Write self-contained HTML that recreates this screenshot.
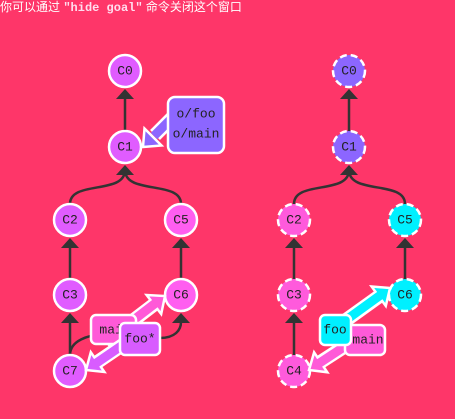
<!DOCTYPE html>
<html><head><meta charset="utf-8"><style>
body{margin:0;width:455px;height:419px;background:#fe3669;overflow:hidden;font-family:"Liberation Sans","Noto Sans CJK SC",sans-serif}
.t{position:absolute;left:0;top:0;color:#fff;font-size:12px;line-height:14px;white-space:nowrap}
.t b{font-family:"Liberation Mono",monospace;color:#fde}
svg{position:absolute;left:0;top:0}
text{font-family:"Liberation Mono","DejaVu Sans Mono",monospace;font-size:13px;text-anchor:middle;dominant-baseline:central;fill:#222}
</style></head><body>
<div class="t">你可以通过 <b>"hide goal"</b> 命令关闭这个窗口</div>
<svg width="455" height="419">
<defs>
<g id="ah"><polygon points="0,0 -9,10 9,10" fill="#333"/></g>
</defs>
<g stroke="#333" stroke-width="2.5" fill="none">
<path d="M125,131 V95"/>
<path d="M70,204 C70,180 125,195 125,170"/>
<path d="M181,204 C181,180 125,195 125,170"/>
<path d="M70,279 V245"/>
<path d="M181,279 V245"/>
<path d="M70,355 V320"/>
<path d="M70,355 C70,340 90,335 100,335"/>
<path d="M160,338 C175,338 181,330 181,322"/>
<path d="M349,131 V95"/>
<path d="M294,204 C294,180 349,195 349,170"/>
<path d="M405,204 C405,180 349,195 349,170"/>
<path d="M294,279 V245"/>
<path d="M405,279 V245"/>
<path d="M294,355 V320"/>
</g>
<use href="#ah" x="125" y="89"/><use href="#ah" x="125" y="165"/><use href="#ah" x="70" y="238"/><use href="#ah" x="181" y="238"/><use href="#ah" x="70" y="313"/><use href="#ah" x="181" y="313"/>
<use href="#ah" x="349" y="89"/><use href="#ah" x="349" y="165"/><use href="#ah" x="294" y="238"/><use href="#ah" x="405" y="238"/><use href="#ah" x="294" y="313"/>
<g stroke="#fff" stroke-width="2.5">
<circle cx="125" cy="71" r="16" fill="#e05cff"/>
<circle cx="125" cy="147" r="16" fill="#e05cff"/>
<circle cx="70" cy="220" r="16" fill="#e05cff"/>
<circle cx="181" cy="220" r="16" fill="#ff5ef0"/>
<circle cx="70" cy="295" r="16" fill="#e05cff"/>
<circle cx="181" cy="295" r="16" fill="#ff5ef0"/>
<circle cx="70" cy="371" r="16" fill="#e05cff"/>
</g>
<g stroke="#fff" stroke-width="2.5" stroke-dasharray="7,4">
<circle cx="349" cy="71" r="16" fill="#8c66ff"/>
<circle cx="349" cy="147" r="16" fill="#8c66ff"/>
<circle cx="294" cy="220" r="16" fill="#ff5adc"/>
<circle cx="405" cy="220" r="16" fill="#00f0ff"/>
<circle cx="294" cy="295" r="16" fill="#ff5adc"/>
<circle cx="405" cy="295" r="16" fill="#00f0ff"/>
<circle cx="294" cy="371" r="16" fill="#ff5adc"/>
</g>
<g>
<text x="125" y="71">C0</text><text x="125" y="147">C1</text><text x="70" y="220">C2</text><text x="181" y="220">C5</text><text x="70" y="295">C3</text><text x="181" y="295">C6</text><text x="70" y="371">C7</text>
<text x="349" y="71">C0</text><text x="349" y="147">C1</text><text x="294" y="220">C2</text><text x="405" y="220">C5</text><text x="294" y="295">C3</text><text x="405" y="295">C6</text><text x="294" y="371">C4</text>
</g>
<!-- o/foo -> C1 -->
<line x1="172" y1="118" x2="155" y2="135" stroke="#fff" stroke-width="14"/>
<polygon points="143,147 161.5,145.5 144.5,128.5" fill="#8c66ff" stroke="#fff" stroke-width="2.5"/>
<line x1="172" y1="118" x2="154" y2="136" stroke="#8c66ff" stroke-width="9"/>
<rect x="168" y="97" width="56" height="56" rx="7" fill="#8c66ff" stroke="#fff" stroke-width="2.5"/>
<text x="196" y="114">o/foo</text><text x="196" y="134">o/main</text>
<!-- left main -> C6 -->
<line x1="105" y1="342" x2="156" y2="303" stroke="#fff" stroke-width="14"/>
<polygon points="165,296 161.2,314 146.6,295" fill="#ff5ad8" stroke="#fff" stroke-width="2.5"/>
<line x1="105" y1="342" x2="157" y2="302" stroke="#ff5ad8" stroke-width="9"/>
<rect x="91" y="315" width="45" height="29" rx="5" fill="#ff5ad8" stroke="#fff" stroke-width="2.5"/>
<text x="115" y="330">main</text>
<!-- foo* -> C7 -->
<line x1="130" y1="340" x2="96" y2="363" stroke="#fff" stroke-width="14"/>
<polygon points="86,370 104.4,372 90.8,352.2" fill="#d85cff" stroke="#fff" stroke-width="2.5"/>
<line x1="130" y1="340" x2="95" y2="364" stroke="#d85cff" stroke-width="9"/>
<rect x="120" y="323" width="40" height="32" rx="5" fill="#d85cff" stroke="#fff" stroke-width="2.5"/>
<text x="140" y="339">foo*</text>
<!-- right main -> C4 -->
<line x1="350" y1="343" x2="319" y2="363" stroke="#fff" stroke-width="14"/>
<polygon points="309,370 327.3,372.3 314.1,352.3" fill="#ff5ad8" stroke="#fff" stroke-width="2.5"/>
<line x1="350" y1="343" x2="318" y2="364" stroke="#ff5ad8" stroke-width="9"/>
<rect x="345" y="325" width="40" height="30" rx="5" fill="#ff5ad8" stroke="#fff" stroke-width="2.5"/>
<text x="368" y="340">main</text>
<!-- foo -> C6 -->
<line x1="335" y1="328" x2="381" y2="295" stroke="#fff" stroke-width="14"/>
<polygon points="390,288 385.8,305.9 371.6,286.5" fill="#00f0ff" stroke="#fff" stroke-width="2.5"/>
<line x1="335" y1="328" x2="382" y2="294" stroke="#00f0ff" stroke-width="9"/>
<rect x="320" y="315" width="31" height="30" rx="5" fill="#00f0ff" stroke="#fff" stroke-width="2.5"/>
<text x="335" y="330">foo</text>
</svg>
</body></html>
